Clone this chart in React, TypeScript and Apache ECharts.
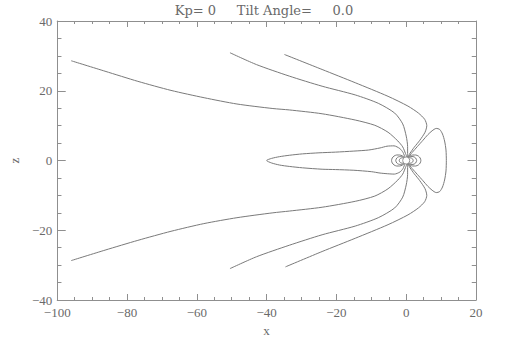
import React, { useEffect, useRef } from "react";
import * as echarts from "echarts";

// ---- Data (x, z in Earth radii) ----
const titleText = "Kp=\u00A00\u00A0\u00A0\u00A0\u00A0\u00A0Tilt\u00A0Angle=\u00A0\u00A0\u00A0\u00A0\u00A00.0";
const xTicks = { min: -100, max: 20, interval: 20 };
const zTicks = { min: -40, max: 40, interval: 20 };

const lineA_N: [number, number][] = [[-96.0,28.6],[-86.3,25.6],[-76.9,22.7],[-67.4,20.1],[-57.9,18.0],[-48.5,16.2],[-38.2,14.9],[-33.5,14.5],[-24.1,13.4],[-14.6,11.6],[-9.0,10.1],[-5.2,8.1],[-2.4,5.6],[-1.0,3.9],[-0.2,2.0],[0.2,1.0]];
const lineA_S: [number, number][] = [[-96.0,-28.7],[-86.3,-25.7],[-76.9,-22.9],[-67.4,-20.3],[-58.0,-18.1],[-48.5,-16.4],[-38.2,-15.0],[-33.5,-14.5],[-24.1,-13.4],[-14.6,-11.7],[-9.0,-10.2],[-5.2,-8.1],[-2.4,-5.6],[-1.0,-3.9],[-0.2,-2.0],[0.2,-1.0]];
const lineB_N: [number, number][] = [[-50.5,30.9],[-42.9,27.5],[-33.5,24.2],[-24.1,21.3],[-14.6,18.8],[-8.0,16.4],[-3.3,13.6],[-1.0,10.5],[0.0,7.0],[0.4,4.0],[0.4,2.0],[0.3,1.0]];
const lineB_S: [number, number][] = [[-50.5,-31.0],[-42.9,-27.6],[-33.5,-24.3],[-24.1,-21.3],[-14.6,-18.8],[-8.0,-16.4],[-3.3,-13.6],[-1.0,-10.5],[0.0,-7.0],[0.4,-4.0],[0.4,-2.0],[0.3,-1.0]];
const lineC_N: [number, number][] = [[-34.9,30.4],[-24.1,26.1],[-14.6,22.3],[-5.2,18.4],[0.5,15.6],[3.5,13.6],[5.3,11.8],[5.9,10.0],[5.4,8.1],[3.9,5.8],[2.3,3.8],[1.1,2.1],[0.4,1.0]];
const lineC_S: [number, number][] = [[-34.6,-30.5],[-24.1,-26.1],[-14.6,-22.3],[-5.2,-18.4],[0.5,-15.6],[3.5,-13.6],[5.3,-11.8],[5.9,-10.0],[5.4,-8.1],[3.9,-5.8],[2.3,-3.8],[1.1,-2.1],[0.4,-1.0]];
const dayLoop: [number, number][] = [[0.5,0.9],[1.7,2.3],[3.2,4.0],[4.8,5.8],[6.2,7.4],[7.4,8.5],[8.6,9.2],[9.6,8.9],[10.4,7.6],[11.0,5.6],[11.4,3.0],[11.5,0],[11.4,-3.0],[11.0,-5.6],[10.4,-7.6],[9.6,-8.9],[8.6,-9.2],[7.4,-8.5],[6.2,-7.4],[4.8,-5.8],[3.2,-4.0],[1.7,-2.3],[0.5,-0.9]];
const tailLoop: [number, number][] = [[-0.4,1.0],[-0.9,2.3],[-1.8,3.4],[-3.5,4.2],[-5.5,4.1],[-7.5,3.6],[-10.8,3.0],[-15.0,2.7],[-20.3,2.4],[-25.0,2.2],[-29.7,1.9],[-33.5,1.5],[-36.3,1.1],[-38.6,0.6],[-40.0,0.0],[-38.6,-0.7],[-36.3,-1.3],[-33.5,-1.7],[-29.7,-2.1],[-24.1,-2.5],[-20.3,-2.6],[-15.0,-2.8],[-10.0,-3.2],[-7.5,-3.6],[-5.3,-3.8],[-3.4,-3.9],[-1.8,-3.3],[-0.9,-2.3],[-0.4,-1.0]];
const nightL2: [number, number][] = [[-0.71,0.71],[-1.1,0.77],[-1.49,0.69],[-1.8,0.48],[-2.0,0],[-1.8,-0.48],[-1.49,-0.69],[-1.1,-0.77],[-0.71,-0.71]];
const nightL3: [number, number][] = [[-0.58,0.82],[-1.06,1.06],[-1.65,1.15],[-2.23,1.04],[-2.7,0.72],[-3.0,0],[-2.7,-0.72],[-2.23,-1.04],[-1.65,-1.15],[-1.06,-1.06],[-0.58,-0.82]];
const nightL4: [number, number][] = [[-0.49,0.87],[-1.12,1.33],[-1.89,1.58],[-2.73,1.58],[-3.49,1.27],[-4.01,0.71],[-4.2,0],[-4.01,-0.71],[-3.49,-1.27],[-2.73,-1.58],[-1.89,-1.58],[-1.12,-1.33],[-0.49,-0.87]];
const dayL2: [number, number][] = [[0.71,0.71],[1.1,0.77],[1.49,0.69],[1.8,0.48],[2.0,0],[1.8,-0.48],[1.49,-0.69],[1.1,-0.77],[0.71,-0.71]];
const dayL3: [number, number][] = [[0.58,0.82],[1.06,1.06],[1.65,1.15],[2.23,1.04],[2.7,0.72],[3.0,0],[2.7,-0.72],[2.23,-1.04],[1.65,-1.15],[1.06,-1.06],[0.58,-0.82]];
const dayL4: [number, number][] = [[0.49,0.87],[1.12,1.33],[1.89,1.58],[2.73,1.58],[3.49,1.27],[4.01,0.71],[4.2,0],[4.01,-0.71],[3.49,-1.27],[2.73,-1.58],[1.89,-1.58],[1.12,-1.33],[0.49,-0.87]];
const earth: [number, number][] = [[0, 0]];

const fieldLines = [lineA_N, lineA_S, lineB_N, lineB_S, lineC_N, lineC_S, dayLoop, tailLoop, nightL2, nightL3, nightL4, dayL2, dayL3, dayL4];

const FONT = '"Liberation Serif", "DejaVu Serif", serif';
const TITLE_FONT = '"DejaVu Serif", "Liberation Serif", serif';
const LINE = "#7a7a7a";
const AXIS = "#8f8f8f";
const TEXT = "#6a6a6a";

export default function App() {
  const ref = useRef<HTMLDivElement>(null);
  useEffect(() => {
    if (!ref.current) return;
    const chart = echarts.init(ref.current, undefined, { renderer: "svg" });
    const fmt = (v: number) => String(v).replace("-", "\u2212");
    const common = (len: number) => ({
      axisLine: { show: true, onZero: false, lineStyle: { color: AXIS, width: 1 } },
      axisTick: { show: true, inside: true, length: len, lineStyle: { color: AXIS } },
      minorTick: { show: true, splitNumber: 4, length: len / 2, lineStyle: { color: AXIS } },
      splitLine: { show: false },
    });
    chart.setOption({
      animation: false,
      backgroundColor: "#fff",
      grid: { left: 52, right: 34, top: 21, bottom: 54, containLabel: false },
      graphic: [
        {
          type: "text",
          x: 264,
          y: 4,
          style: { text: titleText, fill: TEXT, font: `13px ${TITLE_FONT}`, align: "center", verticalAlign: "top" },
        },
      ],
      xAxis: [
        {
          type: "value", position: "bottom", ...xTicks, ...common(6),
          name: "x", nameLocation: "middle", nameGap: 17,
          nameTextStyle: { color: TEXT, fontFamily: FONT, fontSize: 13 },
          axisLabel: { color: TEXT, fontFamily: FONT, fontSize: 13, margin: 6, formatter: fmt },
        },
        {
          type: "value", position: "top", ...xTicks, ...common(6),
          axisLabel: { show: false },
        },
      ],
      yAxis: [
        {
          type: "value", position: "left", ...zTicks, ...common(8.5),
          name: "z", nameLocation: "middle", nameGap: 34, nameRotate: 90,
          nameTextStyle: { color: TEXT, fontFamily: FONT, fontSize: 13 },
          axisLabel: { color: TEXT, fontFamily: FONT, fontSize: 13, margin: 5, formatter: fmt },
        },
        {
          type: "value", position: "right", ...zTicks, ...common(8.5),
          axisLabel: { show: false },
        },
      ],
      series: [
        ...fieldLines.map((d) => ({
          type: "line",
          data: d,
          xAxisIndex: 0,
          yAxisIndex: 0,
          showSymbol: false,
          symbol: "none",
          smooth: 0.25,
          silent: true,
          lineStyle: { color: LINE, width: 1 },
        })),
        {
          type: "scatter",
          data: earth,
          symbol: "circle",
          symbolSize: 7,
          silent: true,
          itemStyle: { color: "#fff", borderColor: LINE, borderWidth: 1 },
          z: 5,
        },
      ],
    });
    return () => chart.dispose();
  }, []);
  return <div ref={ref} style={{ position: "fixed", left: 0, top: 0, width: 510, height: 354 }} />;
}
